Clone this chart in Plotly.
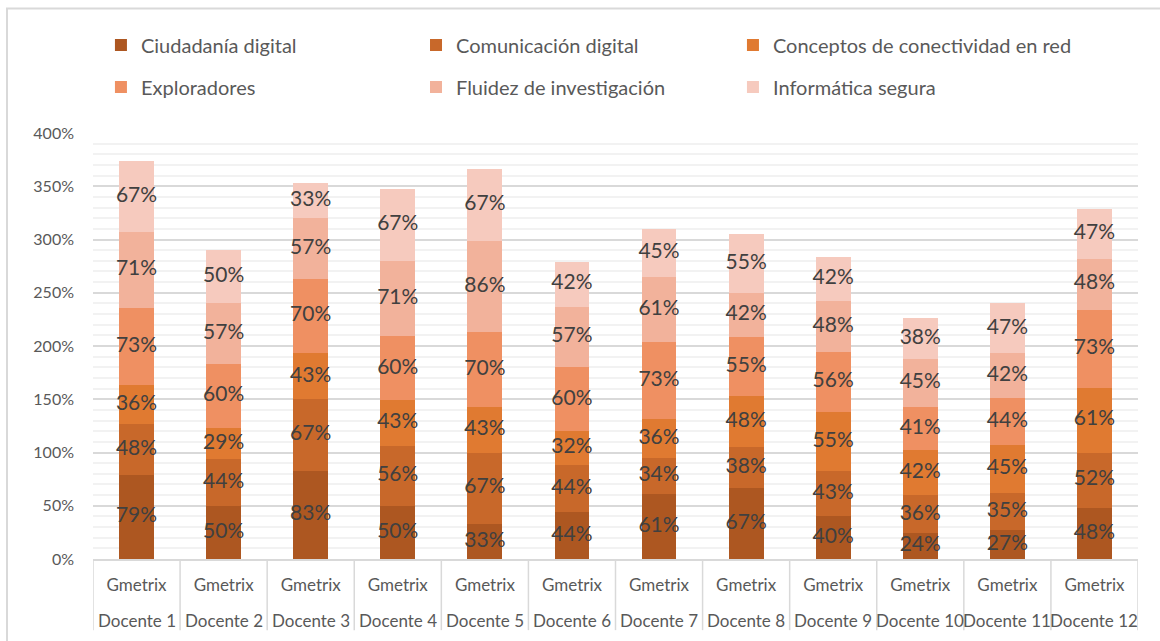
import plotly.graph_objects as go

docentes = [f"Docente {i}" for i in range(1, 13)]
prueba = ["Gmetrix"] * 12

series_names = [
    "Ciudadanía digital",
    "Comunicación digital",
    "Conceptos de conectividad en red",
    "Exploradores",
    "Fluidez de investigación",
    "Informática segura",
]

ciudadania = [79, 50, 83, 50, 33, 44, 61, 67, 40, 24, 27, 48]
comunicacion = [48, 44, 67, 56, 67, 44, 34, 38, 43, 36, 35, 52]
conectividad = [36, 29, 43, 43, 43, 32, 36, 48, 55, 42, 45, 61]
exploradores = [73, 60, 70, 60, 70, 60, 73, 55, 56, 41, 44, 73]
fluidez = [71, 57, 57, 71, 86, 57, 61, 42, 48, 45, 42, 48]
informatica = [67, 50, 33, 67, 67, 42, 45, 55, 42, 38, 47, 47]

colors = ["#AD5721", "#C8682A", "#E07A31", "#EF9062", "#F2B29B", "#F6CABE"]

all_series = [ciudadania, comunicacion, conectividad, exploradores, fluidez, informatica]

FONT = "Lato"
TEXT = "#595959"
GRID = "#D9D9D9"

# legend grid: three columns, two rows (paper coordinates)
legend_cols = [0.0076, 0.3091, 0.6124]
legend_rows = [1.2066, 1.108]

fig = go.Figure()

base = [0] * 12
lab_x, lab_y, lab_t = [], [], []
legend_layout = {}
for k, (name, vals, col) in enumerate(zip(series_names, all_series, colors)):
    key = "legend" if k == 0 else f"legend{k + 1}"
    fig.add_trace(go.Bar(
        x=docentes, y=vals, name=name,
        marker=dict(color=col, line=dict(width=0)),
        legend=key,
        hoverinfo="skip",
    ))
    legend_layout[key] = dict(
        x=legend_cols[k % 3], y=legend_rows[k // 3],
        xanchor="left", yanchor="middle", orientation="h",
        font=dict(family=FONT, size=20, color=TEXT),
        bgcolor="rgba(0,0,0,0)",
    )
    for i, v in enumerate(vals):
        lab_x.append(docentes[i])
        lab_y.append(base[i] + v / 2)
        lab_t.append(f"{v}%")
        base[i] += v

# value labels centred in each stacked block
fig.add_trace(go.Scatter(
    x=lab_x, y=lab_y, text=lab_t, mode="text",
    textfont=dict(family=FONT, size=21, color="#404040"),
    showlegend=False, hoverinfo="skip", cliponaxis=False,
))

# outer-level labels (teachers) and separators between groups
annotations = [
    dict(x=d, y=-0.1455, xref="x", yref="paper", text=d, showarrow=False,
         font=dict(family=FONT, size=17, color=TEXT), yanchor="middle")
    for d in docentes
]
shapes = [
    dict(type="line", xref="x", yref="paper", x0=i - 0.5, x1=i - 0.5,
         y0=0, y1=-0.167, line=dict(color=GRID, width=1.5))
    for i in range(len(docentes) + 1)
]
shapes.append(dict(
    type="rect", xref="paper", yref="paper",
    x0=-0.0823, x1=1.03, y0=-0.25, y1=1.2923,
    line=dict(color=GRID, width=2), layer="below",
))

fig.update_layout(
    barmode="stack",
    bargap=0.6,
    width=1160, height=641,
    margin=dict(l=93, r=22, t=133, b=82, autoexpand=False),
    paper_bgcolor="white", plot_bgcolor="white",
    font=dict(family=FONT, color=TEXT, size=18),
    annotations=annotations,
    shapes=shapes,
    **legend_layout,
)

fig.update_yaxes(
    range=[0, 400], dtick=50, ticksuffix="%",
    showgrid=True, gridcolor=GRID, gridwidth=1.5,
    minor=dict(dtick=10, showgrid=True, gridcolor="#F2F2F2", gridwidth=1.5),
    zeroline=False, showline=False,
    tickfont=dict(family=FONT, size=16, color=TEXT),
    ticks="", ticklabelstandoff=18,
)
fig.update_xaxes(
    type="category", range=[-0.5, 11.5],
    tickvals=docentes, ticktext=prueba,
    showline=True, linecolor=GRID, linewidth=1.5,
    tickfont=dict(family=FONT, size=17, color=TEXT),
    ticks="", ticklabelstandoff=10,
)

fig.write_html("out.html")
